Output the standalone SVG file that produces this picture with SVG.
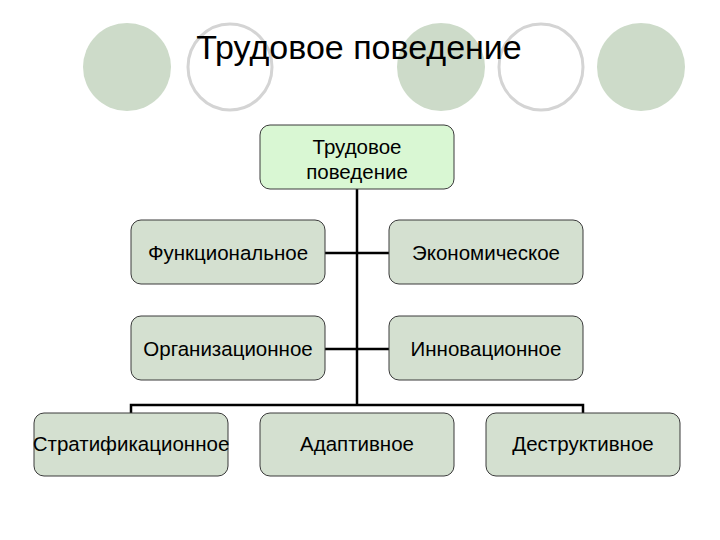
<svg xmlns="http://www.w3.org/2000/svg" width="720" height="540" viewBox="0 0 720 540">
<style>
.deco-f{fill:#cddbc9;stroke:none}
.deco-o{fill:#ffffff;stroke:#d4d4d4;stroke-width:3}
.box{fill:#d4e0d0;stroke:#3a3a3a;stroke-width:1}
.top{fill:#d9f7d3;stroke:#3a3a3a;stroke-width:1}
.lbl{font-family:"Liberation Sans",Arial,sans-serif;font-size:20.5px;fill:#000;text-anchor:middle}
.conn{stroke:#000;stroke-width:2.5;fill:none}
</style>
<rect width="720" height="540" fill="#ffffff"/>
<g id="decor">
<ellipse class="deco-f" cx="127" cy="67" rx="44" ry="44"/>
<ellipse class="deco-o" cx="230" cy="67" rx="42" ry="43"/>
<ellipse class="deco-f" cx="441" cy="67" rx="44" ry="44"/>
<ellipse class="deco-o" cx="541" cy="67" rx="42" ry="43"/>
<ellipse class="deco-f" cx="641" cy="67" rx="44" ry="44"/>
</g>
<text id="title" x="359" y="59" font-family="'Liberation Sans',Arial,sans-serif" font-size="34" text-anchor="middle" fill="#000">Трудовое поведение</text>
<g id="connectors">
<path class="conn" d="M357 189 V405"/>
<path class="conn" d="M131 413 V405 H583 V413"/>
<path class="conn" d="M325 253 H389"/>
<path class="conn" d="M325 349 H389"/>
</g>
<g id="n-top"><rect class="top" x="260" y="125" width="194" height="64" rx="10"/><text class="lbl" x="357" y="154">Трудовое</text><text class="lbl" x="357" y="179">поведение</text></g>
<g id="n-func"><rect class="box" x="131" y="220" width="194" height="64" rx="10"/><text class="lbl" x="228" y="260">Функциональное</text></g>
<g id="n-econ"><rect class="box" x="389" y="220" width="194" height="64" rx="10"/><text class="lbl" x="486" y="260">Экономическое</text></g>
<g id="n-org"><rect class="box" x="131" y="316" width="194" height="64" rx="10"/><text class="lbl" x="228" y="356">Организационное</text></g>
<g id="n-innov"><rect class="box" x="389" y="316" width="194" height="64" rx="10"/><text class="lbl" x="486" y="356">Инновационное</text></g>
<g id="n-strat"><rect class="box" x="34" y="413" width="194" height="63" rx="10"/><text class="lbl" x="131" y="451">Стратификационное</text></g>
<g id="n-adapt"><rect class="box" x="260" y="413" width="194" height="63" rx="10"/><text class="lbl" x="357" y="451">Адаптивное</text></g>
<g id="n-destr"><rect class="box" x="486" y="413" width="194" height="63" rx="10"/><text class="lbl" x="583" y="451">Деструктивное</text></g>
</svg>
